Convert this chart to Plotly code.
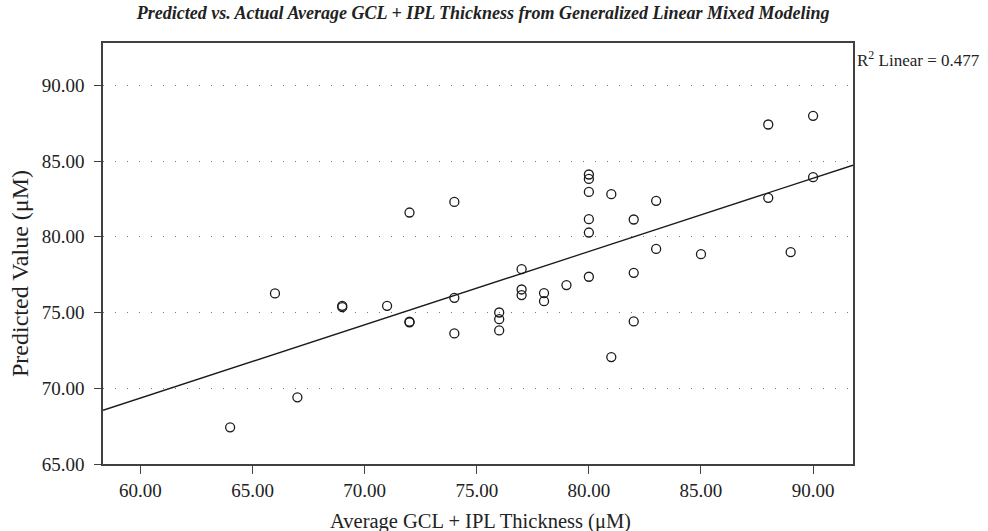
import numpy as np
import plotly.graph_objects as go

# Data
actual = [64, 66, 67, 69, 69, 71, 72, 72, 72, 74, 74, 74, 76, 76, 76, 77, 77, 77, 78, 78,
          79, 80, 80, 80, 80, 80, 80, 81, 81, 82, 82, 82, 83, 83, 85, 88, 88, 89, 90, 90]
predicted = [67.42, 76.26, 69.40, 75.44, 75.35, 75.44, 81.60, 74.39, 74.35, 82.30, 75.97, 73.62,
             75.00, 74.56, 73.82, 77.86, 76.52, 76.15, 76.28, 75.75,
             76.81, 84.11, 83.82, 82.96, 81.16, 80.28, 77.36, 82.81, 72.06, 81.14, 77.62, 74.41,
             82.37, 79.20, 78.85, 87.41, 82.57, 78.98, 87.98, 83.93]
x_ticks = [60, 65, 70, 75, 80, 85, 90]
y_ticks = [65, 70, 75, 80, 85, 90]
x_range = [58.33, 91.78]
y_range = [65.0, 92.79]

slope, intercept = np.polyfit(actual, predicted, 1)
fit_x = np.array(x_range)
fit_y = intercept + slope * fit_x

font_family = "Liberation Serif, Times New Roman, serif"
axis_col = "#404040"
text_col = "#222222"

fig = go.Figure()
fig.add_trace(go.Scatter(
    x=fit_x, y=fit_y, mode="lines",
    line=dict(color="#1a1a1a", width=1.3),
    hoverinfo="skip", showlegend=False,
))
fig.add_trace(go.Scatter(
    x=actual, y=predicted, mode="markers",
    marker=dict(symbol="circle-open", size=9, color="#1a1a1a", line=dict(width=1.3)),
    showlegend=False,
))

fig.update_layout(
    width=988, height=531,
    margin=dict(l=103, r=135, t=43, b=67, autoexpand=False),
    paper_bgcolor="white", plot_bgcolor="white",
    font=dict(family=font_family, size=19, color=text_col),
    title=dict(
        text="<b><i>Predicted vs. Actual Average GCL + IPL Thickness from Generalized Linear Mixed Modeling</i></b>",
        x=0.489, xanchor="center", y=1 - 12.5 / 531, yanchor="middle",
        font=dict(family=font_family, size=18, color=text_col),
    ),
    xaxis=dict(
        range=x_range, tickvals=x_ticks, ticktext=[f"{v:.2f}" for v in x_ticks],
        showgrid=False, zeroline=False,
        showline=True, linecolor=axis_col, linewidth=1.5, mirror=True,
        ticks="outside", ticklen=8, tickwidth=1.2, tickcolor=axis_col,
        tickfont=dict(size=19),
    ),
    yaxis=dict(
        range=y_range, tickvals=y_ticks, ticktext=[f"{v:.2f}" for v in y_ticks],
        showgrid=True, gridcolor="#777", gridwidth=1, griddash="1px,11px",
        zeroline=False,
        showline=True, linecolor=axis_col, linewidth=1.5, mirror=True,
        ticks="outside", ticklen=7, tickwidth=1.2, tickcolor=axis_col,
        ticklabelstandoff=6,
        tickfont=dict(size=19),
    ),
    annotations=[
        dict(
            text="R<sup>2</sup> Linear = 0.477", xref="paper", yref="paper",
            x=1.0, y=1 - (59 - 43) / 421, xanchor="left", yanchor="middle", xshift=2,
            showarrow=False, font=dict(family=font_family, size=17, color=text_col),
        ),
        dict(
            text="Average GCL + IPL Thickness (μM)", xref="paper", yref="paper",
            x=(480 - 103) / 750, y=-(521 - 464) / 421, xanchor="center", yanchor="middle",
            showarrow=False, font=dict(family=font_family, size=20.5, color=text_col),
        ),
        dict(
            text="Predicted Value (μM)", xref="paper", yref="paper", textangle=-90,
            x=-(103 - 20) / 750, y=(464 - 274) / 421, xanchor="center", yanchor="middle",
            showarrow=False, font=dict(family=font_family, size=24, color=text_col),
        ),
    ],
)

fig.write_html(
    "out.html",
    config={"displayModeBar": False},
    post_script="document.body.style.margin='0';",
)
